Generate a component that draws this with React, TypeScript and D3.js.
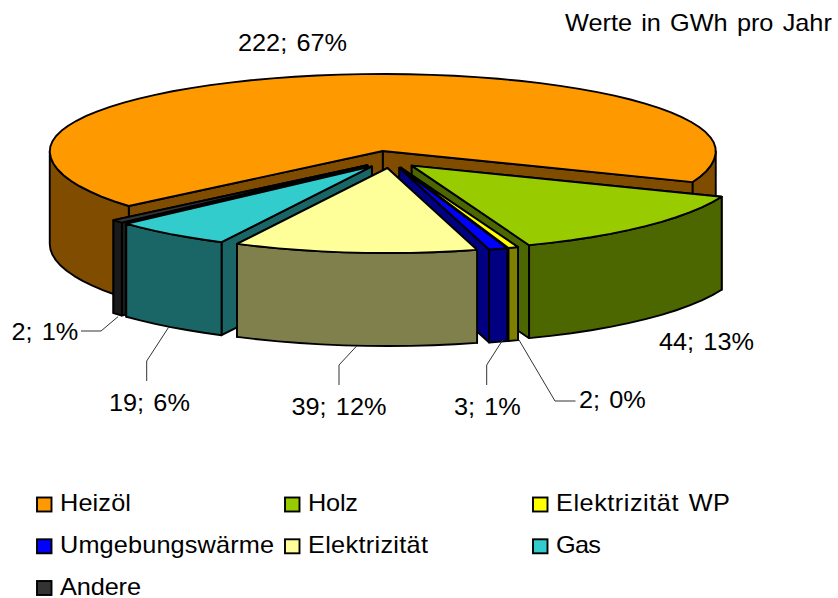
import React from "react";
import * as d3 from "d3";

const categories = ["Heizöl", "Holz", "Elektrizität WP", "Umgebungswärme", "Elektrizität", "Gas", "Andere"];
const values = [222, 44, 1.6, 3, 39, 19, 2];
const valueLabels = ["222; 67%", "44; 13%", "2; 0%", "3; 1%", "39; 12%", "19; 6%", "2; 1%"];
const topColors = ["#FF9900", "#99CC00", "#FFFF00", "#0000FF", "#FFFF99", "#33CCCC", "#333333"];
const wallColors = ["#804C00", "#4C6600", "#808000", "#000080", "#80804C", "#1A6666", "#1A1A1A"];

// layout
const W = 838, H = 598;
const CX = 390.3, CY = 159.5;
const RX = 333, RY_FRONT = 85, RY_BACK = 77;
const DEPTH = 93;
const START_DEG = 139.7;
const explodeX = [46, 30.5, 30.5, 30.5, 30.5, 30.5, 30.5];
const EXPLODE_Y = 8.6;
const paintOrder = [0, 6, 5, 1, 2, 3, 4];
const FONT = "'Liberation Sans', Arial, sans-serif";
const FS = 23;
const SX = 1.1;
const WS = 2;

const labelX = [238, 659, 579, 454, 291.5, 109, 11.5];
const labelY = [50.5, 349.5, 408, 415, 415, 411, 339.5];
const leaders: [number, number][][] = [
  [],
  [],
  [[575.5, 401], [555, 401], [519, 340]],
  [[486.7, 385], [486.7, 365], [502.7, 340]],
  [[339, 385], [339, 365], [356.7, 346]],
  [[146.7, 381], [146.7, 361], [169, 326.7]],
  [[81, 331], [101, 331], [118, 316.7]],
];
const legendColX = [37, 285, 533];
const legendRowY = [498, 539.8, 581.5];
const legendTextW = [71, 50, 174, 214, 120, 45, 81];

const rad = (d: number) => (d * Math.PI) / 180;

export default function App() {
  const pie = d3.pie<number>().sort(null)
    .startAngle(rad(START_DEG + 90))
    .endAngle(rad(START_DEG + 90 + 360));
  const arcs = pie(values).map((a, i) => {
    const a0 = (a.startAngle * 180) / Math.PI - 90;
    const a1 = (a.endAngle * 180) / Math.PI - 90;
    const mid = (a0 + a1) / 2;
    const ax = CX + Math.cos(rad(mid)) * explodeX[i];
    const ay = CY + Math.sin(rad(mid)) * EXPLODE_Y;
    return { i, a0, a1, ax, ay };
  });
  const pt = (s: { ax: number; ay: number }, deg: number): [number, number] => {
    const sn = Math.sin(rad(deg));
    return [s.ax + RX * Math.cos(rad(deg)), s.ay + (sn > 0 ? RY_FRONT : RY_BACK) * sn];
  };
  const sample = (a0: number, a1: number) => {
    const n = Math.max(1, Math.ceil((a1 - a0) / 4));
    return d3.range(n + 1).map((k) => a0 + ((a1 - a0) * k) / n);
  };
  const line = d3.line();
  const closed = (p: [number, number][]) => line(p) + "Z";
  const down = (p: [number, number]): [number, number] => [p[0], p[1] + DEPTH];

  const stroke = { stroke: "#000", strokeWidth: 1.9, strokeLinejoin: "round" as const };

  return (
    <svg width={W} height={H} style={{ position: "absolute", left: 0, top: 0, background: "#fff" }} fontFamily={FONT} wordSpacing={WS}>
      {paintOrder.map((idx) => {
        const s = arcs[idx];
        const apex: [number, number] = [s.ax, s.ay];
        const edges = [pt(s, s.a0), pt(s, s.a1)].sort((p, q) => p[1] - q[1]);
        const rims = [[0, 180], [360, 540]]
          .map(([lo, hi]) => [Math.max(lo, s.a0), Math.min(hi, s.a1)])
          .filter(([a, b]) => b > a);
        const top = [apex, ...sample(s.a0, s.a1).map((d) => pt(s, d))];
        return (
          <g key={idx}>
            {edges.map((p, k) => (
              <path key={k} d={closed([apex, p, down(p), down(apex)])} fill={wallColors[idx]} {...stroke} />
            ))}
            {rims.map(([a, b], k) => {
              const up = sample(a, b).map((d) => pt(s, d));
              return <path key={k} d={closed([...up, ...up.slice().reverse().map(down)])} fill={wallColors[idx]} {...stroke} />;
            })}
            <path d={closed(top as [number, number][])} fill={topColors[idx]} {...stroke} />
          </g>
        );
      })}
      {leaders.map((l, i) => l.length ? <path key={i} d={line(l) as string} fill="none" stroke="#333" strokeWidth={1} /> : null)}
      {valueLabels.map((t, i) => (
        <text key={i} transform={`translate(${labelX[i]},${labelY[i]}) scale(${SX},1)`} fontSize={FS} fill="#000">{t}</text>
      ))}
      <text transform={`translate(565,31) scale(${SX},1)`} fontSize={FS} fill="#000">Werte in GWh pro Jahr</text>
      {categories.map((c, i) => {
        const x = legendColX[i % 3];
        const y = legendRowY[Math.floor(i / 3)];
        return (
          <g key={c}>
            <rect x={x} y={y - 0.5} width={14.5} height={14} fill={topColors[i]} stroke="#000" strokeWidth={1.9} />
            <text transform={`translate(${x + 23},${y + 13}) scale(${SX},1)`} fontSize={FS} fill="#000"
              textLength={legendTextW[i] / SX} lengthAdjust="spacing">{c}</text>
          </g>
        );
      })}
    </svg>
  );
}
